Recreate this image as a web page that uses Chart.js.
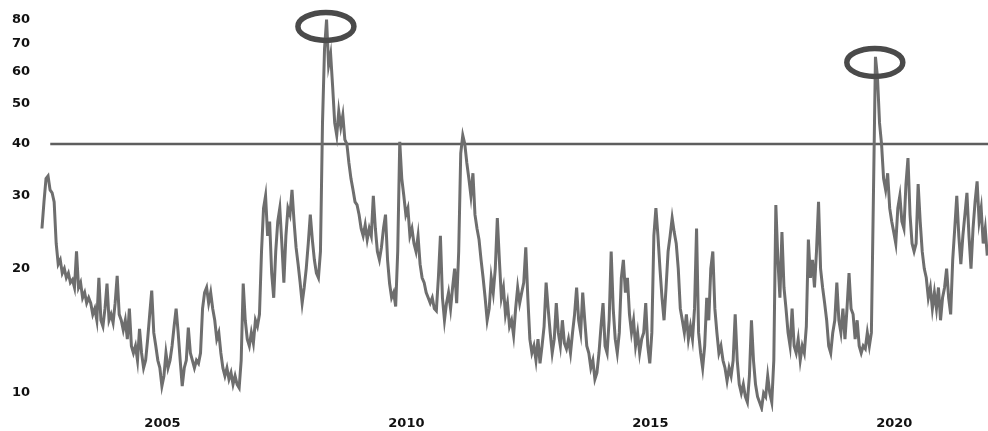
<!DOCTYPE html>
<html lang="en">
<head>
  <meta charset="UTF-8">
  <title>Volatility index 2003-2022</title>
  <script src="https://cdn.jsdelivr.net/npm/chart.js"></script>
  <style>
    body {
      margin: 0;
      padding: 0;
      background-color: #fff;
      overflow: hidden;
    }
    .chart-container {
      position: relative;
      width: 988px;
      height: 431px;
    }
  </style>
</head>
<body>
  <div class="chart-container">
    <canvas id="vixChart"></canvas>
  </div>

  <script>
    // half-month readings (24 per year)
    const v2003 = [25, 29, 33, 33.5, 31, 30.5, 29, 23, 20.5, 21, 19.5, 20, 19, 19.5, 18.5, 18.8, 18, 22, 18, 18.5, 17, 17.5, 16.5, 17];
    const v2004 = [16.5, 15.5, 16, 15, 19, 15, 14.5, 16, 18.4, 15, 15.5, 14.8, 16.5, 19.2, 15.5, 15, 14.2, 15, 13.5, 16, 13, 12.5, 13, 12];
    const v2005 = [14.3, 12.5, 11.5, 12, 13.5, 15.5, 17.7, 14, 13, 12, 11.5, 10.4, 11, 12.5, 11.5, 12, 13, 14.5, 16, 14, 12, 10.4, 11.5, 12];
    const v2006 = [14.4, 12.5, 12, 11.5, 12, 11.8, 12.5, 16, 17.5, 18, 16.5, 17.5, 16, 15, 13.5, 14, 12.5, 11.5, 11, 11.5, 10.8, 11.2, 10.5, 11];
    const v2007 = [10.5, 10.3, 12, 18.4, 15, 13.5, 13, 14, 13.2, 15, 14.5, 15.5, 22, 28, 30, 24, 26, 19.5, 17, 22, 26, 28, 23, 18.5];
    const v2008 = [24, 28, 27, 31, 26, 22.5, 20.5, 18.5, 16.5, 18, 20, 23, 27, 23.5, 21, 19.5, 19, 22, 45, 68, 80, 62, 66, 55];
    const v2009 = [45, 42, 48, 44, 47, 41, 40, 36, 33, 31, 29, 28.5, 27, 25, 24, 25.5, 23.5, 25, 24, 30, 25, 22, 21, 22.5];
    const v2010 = [25, 27, 21, 18.4, 17, 17.5, 16.2, 22, 40.5, 33, 30, 27, 28, 24, 25, 23, 22, 24, 20.5, 19, 18.5, 17.5, 17, 16.5];
    const v2011 = [17, 16, 15.8, 19, 24, 17, 15, 16.5, 17.5, 16, 18, 20, 16.5, 22, 38, 42, 40, 36, 33, 30, 34, 27, 25, 23.5];
    const v2012 = [21, 19, 17, 15, 16, 19, 17.5, 20, 26.5, 21, 17, 18, 15.5, 16.5, 14.5, 15, 13.8, 16, 18, 16.5, 17.5, 18.5, 22.5, 17];
    const v2013 = [13.5, 12.5, 13, 12, 13.5, 11.8, 13, 14.5, 18.5, 16, 14, 12.5, 13.5, 16.5, 14, 13, 15, 13.2, 12.8, 13.5, 12.5, 14, 15.5, 18];
    const v2014 = [15, 14, 17.5, 15, 13, 12.5, 11.5, 12, 10.8, 11.2, 12.5, 14.5, 16.5, 13, 12.5, 15, 22, 16, 13.5, 12.5, 14, 19, 21, 17.5];
    const v2015 = [19, 15.5, 14, 15, 13, 14, 12.5, 13.5, 14, 16.5, 13, 11.8, 14, 24, 28, 24, 20, 17, 15, 18, 22, 24, 26.5, 24.5];
    const v2016 = [23, 20, 16, 15, 14, 15.5, 13.5, 14.5, 13.5, 16, 25, 14, 12.5, 11.5, 13, 17, 15, 20, 22, 16, 14, 12.5, 13, 12];
    const v2017 = [11.5, 10.7, 11.5, 11, 12, 15.5, 12, 10.5, 10, 10.5, 9.8, 9.5, 11, 15, 12, 10.5, 9.8, 9.5, 9.2, 10, 9.8, 11, 10, 9.5];
    const v2018 = [12, 28.5, 21, 17, 24.5, 18, 16, 14, 13, 16, 13, 12.5, 13.5, 12, 13, 12.5, 14.5, 23.5, 19, 21, 18, 22, 29, 20];
    const v2019 = [18, 16.5, 15, 13, 12.5, 14, 15, 18.5, 15, 14, 16, 13.5, 16, 19.5, 16, 15.5, 13.5, 15, 13, 12.5, 13, 12.8, 14, 13];
    const v2020 = [14, 30, 65, 58, 45, 40, 33, 31, 34, 28, 26, 24.5, 23, 28, 30, 26, 25, 32, 37, 27, 23, 22, 23, 32];
    const v2021 = [26, 22, 20, 19, 17, 18, 16, 17.5, 16, 18, 15, 17, 18, 20, 17, 15.5, 21, 25, 30, 24, 20.5, 24, 27, 30.5];
    const v2022 = [24, 20, 25, 29, 32.5, 26, 28, 23, 25, 21.5];

    const yearlyValues = [v2003, v2004, v2005, v2006, v2007, v2008, v2009, v2010, v2011, v2012,
                          v2013, v2014, v2015, v2016, v2017, v2018, v2019, v2020, v2021, v2022];
    const firstYear = 2003;

    const yTicks = [10, 20, 30, 40, 50, 60, 70, 80];
    const xTickYears = [2005, 2010, 2015, 2020];
    const thresholdLevel = 40;

    // circled peaks: [year, level]
    const circledPeaks = [[2008.82, 77], [2020.07, 63]];

    // build the {x, y} series, x in decimal years
    const series = [];
    yearlyValues.forEach((vals, k) => {
      vals.forEach((v, i) => {
        series.push({ x: firstYear + k + i / 24, y: v });
      });
    });

    const labelFont = { family: "'DejaVu Sans', sans-serif", size: 13, weight: 'bold' };

    const ellipsePlugin = {
      id: 'ellipses',
      afterDatasetsDraw(chart) {
        const ctx = chart.ctx;
        const xs = chart.scales.x, ys = chart.scales.y;
        ctx.save();
        ctx.strokeStyle = '#4a4a4a';
        ctx.lineWidth = 5.5;
        circledPeaks.forEach(p => {
          ctx.beginPath();
          ctx.ellipse(xs.getPixelForValue(p[0]), ys.getPixelForValue(p[1]), 28, 14, 0, 0, Math.PI * 2);
          ctx.stroke();
        });
        ctx.restore();
      }
    };

    new Chart(document.getElementById('vixChart'), {
      type: 'line',
      data: {
        datasets: [{
          data: series,
          borderColor: '#6e6e6e',
          borderWidth: 3,
          pointRadius: 0,
          tension: 0
        }, {
          data: [{ x: 2003.17, y: thresholdLevel }, { x: 2022.39, y: thresholdLevel }],
          borderColor: '#5e5e5e',
          borderWidth: 2.5,
          pointRadius: 0
        }]
      },
      options: {
        responsive: true,
        maintainAspectRatio: false,
        animation: false,
        layout: { padding: { left: 12, top: 8, right: 0, bottom: 0 } },
        plugins: {
          legend: { display: false },
          tooltip: { enabled: false }
        },
        scales: {
          x: {
            type: 'linear',
            min: 2002.96,
            max: 2022.39,
            grid: { display: false, drawTicks: false },
            border: { display: false },
            afterBuildTicks: s => { s.ticks = xTickYears.map(y => ({ value: y + 0.47 })); },
            afterFit: s => { s.height = 19; },
            ticks: {
              autoSkip: false,
              maxRotation: 0,
              padding: 4,
              color: '#111',
              font: labelFont,
              callback: v => String(Math.floor(v))
            }
          },
          y: {
            type: 'logarithmic',
            min: 9,
            max: 84,
            grid: { display: false, drawTicks: false },
            border: { display: false },
            afterBuildTicks: s => { s.ticks = yTicks.map(v => ({ value: v })); },
            afterFit: s => { s.width = 28; },
            ticks: {
              autoSkip: false,
              crossAlign: 'far',
              color: '#111',
              font: labelFont,
              callback: v => String(v)
            }
          }
        }
      },
      plugins: [ellipsePlugin]
    });
  </script>
</body>
</html>
